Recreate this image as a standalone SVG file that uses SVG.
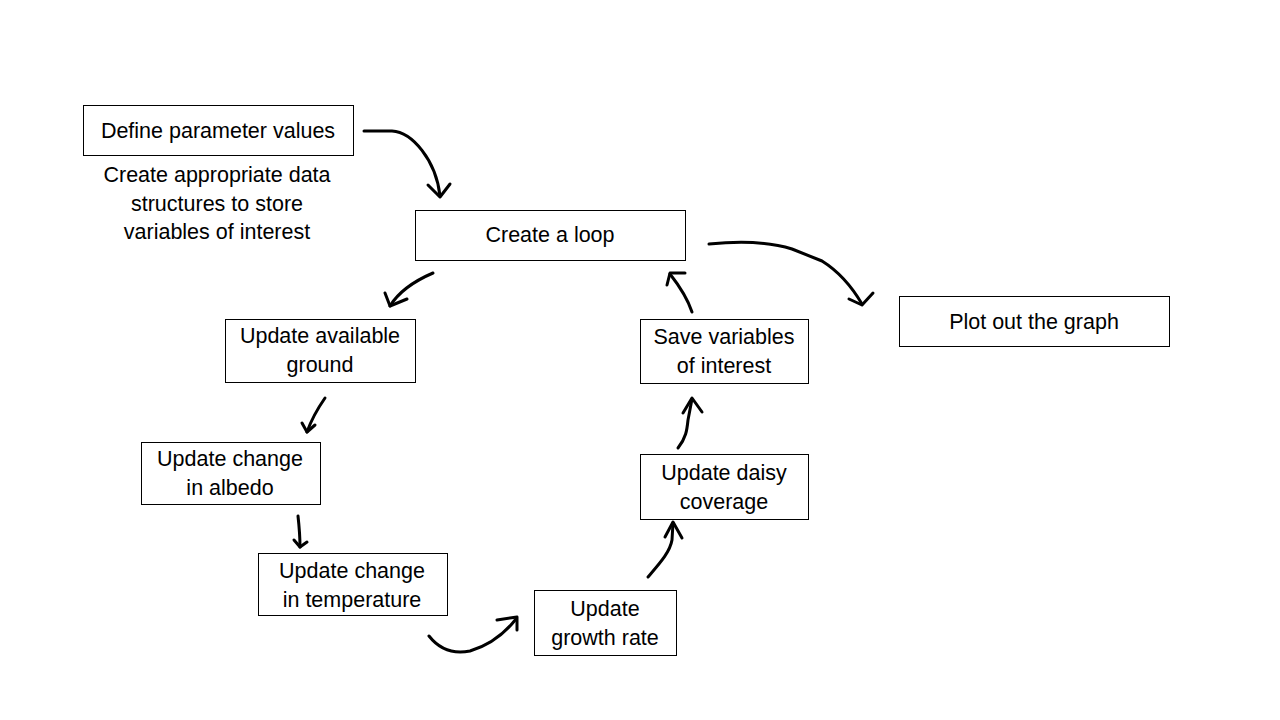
<svg xmlns="http://www.w3.org/2000/svg" width="1280" height="720" viewBox="0 0 1280 720">
<style>
.box{fill:#fff;stroke:#000;stroke-width:1}
.t{font-family:"Liberation Sans",Arial,sans-serif;font-size:21.5px;fill:#000;text-anchor:middle}
.c path{fill:none;stroke:#000;stroke-width:3;stroke-linecap:round;stroke-linejoin:round}
</style>
<rect width="1280" height="720" fill="#fff"/>
<g id="define"><rect class="box" x="83.5" y="105.5" width="270" height="50"/><text class="t" x="218" y="138">Define parameter values</text></g>
<g id="note"><text class="t" x="217" y="182">Create appropriate data</text><text class="t" x="217" y="211">structures to store</text><text class="t" x="217" y="239">variables of interest</text></g>
<g id="loop"><rect class="box" x="415.5" y="210.5" width="270" height="50"/><text class="t" x="550" y="242">Create a loop</text></g>
<g id="plot"><rect class="box" x="899.5" y="296.5" width="270" height="50"/><text class="t" x="1034" y="329">Plot out the graph</text></g>
<g id="ground"><rect class="box" x="225.5" y="319.5" width="190" height="63"/><text class="t" x="320" y="343">Update available</text><text class="t" x="320" y="372">ground</text></g>
<g id="albedo"><rect class="box" x="141.5" y="442.5" width="179" height="62"/><text class="t" x="230" y="466">Update change</text><text class="t" x="230" y="495">in albedo</text></g>
<g id="temp"><rect class="box" x="258.5" y="553.5" width="189" height="62"/><text class="t" x="352" y="578">Update change</text><text class="t" x="352" y="607">in temperature</text></g>
<g id="growth"><rect class="box" x="534.5" y="590.5" width="142" height="65"/><text class="t" x="605" y="616">Update</text><text class="t" x="605" y="645">growth rate</text></g>
<g id="daisy"><rect class="box" x="640.5" y="454.5" width="168" height="65"/><text class="t" x="724" y="480">Update daisy</text><text class="t" x="724" y="509">coverage</text></g>
<g id="save"><rect class="box" x="640.5" y="319.5" width="168" height="64"/><text class="t" x="724" y="344">Save variables</text><text class="t" x="724" y="373">of interest</text></g>
<g id="connectors" class="c">
<path d="M364,131 L392,131 C412,132 436,160 440,196"/>
<path d="M428,185 L440,197 L450,184"/>
<path d="M709,244 C740,241 770,242 792,249 L822,261 C838,271 852,287 862,304"/>
<path d="M849,299 L862,305 L873,293"/>
<path d="M433,273 C412,282 398,293 390,306"/>
<path d="M385,293 L390,306 L407,299"/>
<path d="M325,398 C318,408 312,418 307,432"/>
<path d="M302,423 L307,432 L315,425"/>
<path d="M298,516 C299,525 300,535 300,547"/>
<path d="M294,540 L300,547 L307,542"/>
<path d="M429,636 C440,650 455,654 470,651 C490,645 505,633 516,619"/>
<path d="M497,620 L517,617 L517,630"/>
<path d="M678,448 C686,438 687,430 688,420 L692,399"/>
<path d="M683,413 L692,398 L702,412"/>
<path d="M648,577 C660,563 670,552 672,540 L673,523"/>
<path d="M665,537 L673,522 L682,538"/>
<path d="M692,312 C688,300 681,288 670,274"/>
<path d="M667,285 L670,273 L685,273"/>
</g>
</svg>
